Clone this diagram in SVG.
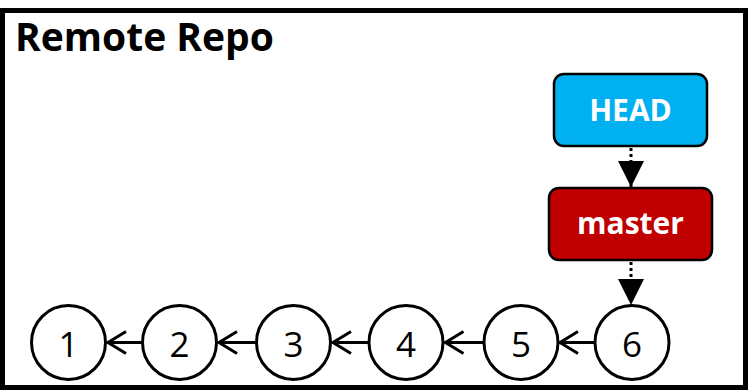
<svg xmlns="http://www.w3.org/2000/svg" width="748" height="390" viewBox="0 0 748 390">
<style>
.frame{fill:#fff;stroke:#000;stroke-width:5}
.title{font-family:"Open Sans","Noto Sans",sans-serif;font-weight:bold;font-size:39px;fill:#000}
.box{stroke:#000;stroke-width:2.5}
.lbl{font-family:"Open Sans","Noto Sans",sans-serif;font-weight:bold;font-size:30px;fill:#fff;text-anchor:middle}
.commit{fill:#fff;stroke:#000;stroke-width:3}
.num{font-family:"Open Sans","Noto Sans",sans-serif;font-size:35px;fill:#000;text-anchor:middle}
.link{stroke:#000;stroke-width:3;fill:none}
.ref{stroke:#000;stroke-width:3;stroke-dasharray:3 3;fill:none}
</style>
<defs>
<marker id="open" markerWidth="24" markerHeight="28" refX="21" refY="14" orient="auto" markerUnits="userSpaceOnUse">
<path d="M3,3 L21,14 L3,25" fill="none" stroke="#000" stroke-width="3"/>
</marker>
<marker id="solid" markerWidth="28" markerHeight="26" refX="26" refY="13" orient="auto" markerUnits="userSpaceOnUse">
<path d="M0,0 L26,13 L0,26 Z" fill="#000"/>
</marker>
</defs>
<rect class="frame" x="2.5" y="10.5" width="743" height="377"/>
<text class="title" x="15" y="51">Remote Repo</text>
<g id="c1"><circle class="commit" cx="68.5" cy="342.5" r="37"/><text class="num" x="68.5" y="357">1</text></g>
<g id="c2"><circle class="commit" cx="179.5" cy="342.5" r="37"/><text class="num" x="179.5" y="357">2</text></g>
<g id="c3"><circle class="commit" cx="293.5" cy="342.5" r="37"/><text class="num" x="293.5" y="357">3</text></g>
<g id="c4"><circle class="commit" cx="406" cy="342.5" r="37"/><text class="num" x="406" y="357">4</text></g>
<g id="c5"><circle class="commit" cx="521" cy="342.5" r="37"/><text class="num" x="521" y="357">5</text></g>
<g id="c6"><circle class="commit" cx="632" cy="342.5" r="37"/><text class="num" x="632" y="357">6</text></g>
<g id="head"><rect class="box" x="554" y="74" width="153" height="72" rx="10" fill="#00B0F0"/><text class="lbl" x="630.5" y="121">HEAD</text></g>
<g id="master"><rect class="box" x="549" y="188" width="163" height="72" rx="10" fill="#C00000"/><text class="lbl" x="630.5" y="234">master</text></g>
<g id="connectors">
<line class="link" x1="141.5" y1="342.5" x2="108" y2="342.5" marker-end="url(#open)"/>
<line class="link" x1="255.5" y1="342.5" x2="219" y2="342.5" marker-end="url(#open)"/>
<line class="link" x1="368" y1="342.5" x2="333" y2="342.5" marker-end="url(#open)"/>
<line class="link" x1="483" y1="342.5" x2="445.5" y2="342.5" marker-end="url(#open)"/>
<line class="link" x1="594.5" y1="342.5" x2="560" y2="342.5" marker-end="url(#open)"/>
<line class="ref" x1="631" y1="148" x2="631" y2="187" marker-end="url(#solid)"/>
<line class="ref" x1="631" y1="262" x2="631" y2="305" marker-end="url(#solid)"/>
</g>
</svg>
